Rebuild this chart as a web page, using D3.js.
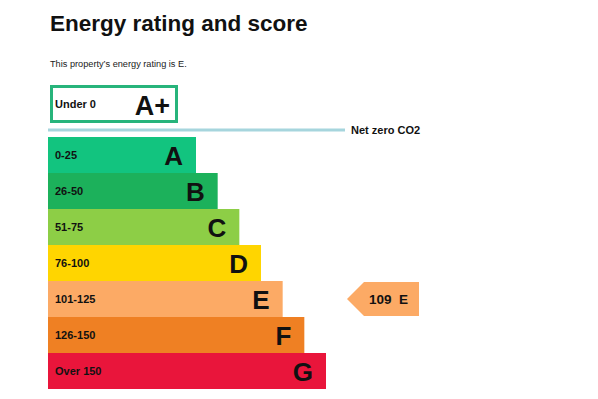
<!DOCTYPE html>
<html>
<head>
<meta charset="utf-8">
<script src="https://cdn.jsdelivr.net/npm/d3@7"></script>
<style>
  body { margin: 0; background: #fff; }
  text { font-family: "Liberation Sans", Arial, sans-serif; }
</style>
</head>
<body>
<svg width="598" height="399"></svg>
<script>
// ratings and their score bands
var ratings = ["A", "B", "C", "D", "E", "F", "G"]
var ranges = ["0-25", "26-50", "51-75", "76-100", "101-125", "126-150", "Over 150"]
var colours = ["#12c47f", "#1cb15b", "#8dce46", "#ffd500", "#fcaa65", "#ef8023", "#e9153b"]
var current_score = 109
var current_rating = "E"

var svg = d3.select("svg")

var left = 48
var ys = d3.scaleBand().domain(ratings).range([137, 389]).padding(0)
var xs = d3.scaleLinear().domain([0, ratings.length - 1]).range([148, 278])

svg.append("text")
  .attr("x", 50).attr("y", 31)
  .attr("font-size", "22.5px").attr("font-weight", "bold").attr("fill", "#111")
  .text("Energy rating and score")

svg.append("text")
  .attr("x", 50).attr("y", 67)
  .attr("font-size", "9.2px").attr("fill", "#222")
  .text("This property\u2019s energy rating is " + current_rating + ".")

// A+ box
svg.append("rect")
  .attr("x", 51.5).attr("y", 86.5).attr("width", 125).attr("height", 35)
  .attr("fill", "#fff").attr("stroke", "#27b47b").attr("stroke-width", 3)
svg.append("text")
  .attr("x", 55).attr("y", 108)
  .attr("font-size", "11px").attr("font-weight", "bold").attr("fill", "#111")
  .text("Under 0")
svg.append("text")
  .attr("x", 170).attr("y", 115).attr("text-anchor", "end")
  .attr("font-size", "27px").attr("font-weight", "bold").attr("fill", "#111")
  .text("A+")

// net zero line
svg.append("line")
  .attr("x1", 48).attr("x2", 345).attr("y1", 130).attr("y2", 130)
  .attr("stroke", "#a6d5dd").attr("stroke-width", 3)
svg.append("text")
  .attr("x", 351).attr("y", 134)
  .attr("font-size", "11px").attr("font-weight", "bold").attr("fill", "#111")
  .text("Net zero CO2")

var rows = svg.selectAll(".row")
  .data(ratings)
  .enter()
  .append("g")
  .attr("class", "row")

rows.append("rect")
  .attr("x", left)
  .attr("y", function(d){ return ys(d) })
  .attr("width", function(d, i){ return xs(i) })
  .attr("height", ys.bandwidth())
  .attr("fill", function(d, i){ return colours[i] })

rows.append("text")
  .attr("x", left + 7)
  .attr("y", function(d){ return ys(d) + ys.bandwidth() / 2 + 4 })
  .attr("font-size", "11px").attr("font-weight", "bold").attr("fill", "#111")
  .text(function(d, i){ return ranges[i] })

rows.append("text")
  .attr("x", function(d, i){ return left + xs(i) - 13 })
  .attr("y", function(d){ return ys(d) + ys.bandwidth() / 2 + 9.5 })
  .attr("text-anchor", "end")
  .attr("font-size", "26px").attr("font-weight", "bold").attr("fill", "#111")
  .text(function(d){ return d })

// current rating pointer
var py = ys(current_rating)
var ph = ys.bandwidth()
var px = 347
svg.append("path")
  .attr("d", "M" + px + "," + (py + ph / 2) +
    "L" + (px + 17) + "," + (py + 1) +
    "L" + (px + 72) + "," + (py + 1) +
    "L" + (px + 72) + "," + (py + ph - 1) +
    "L" + (px + 17) + "," + (py + ph - 1) + "Z")
  .attr("fill", colours[ratings.indexOf(current_rating)])
svg.append("text")
  .attr("x", px + 22).attr("y", py + ph / 2 + 5)
  .attr("font-size", "13.5px").attr("font-weight", "bold").attr("fill", "#111")
  .attr("xml:space", "preserve").style("white-space", "pre")
  .text(current_score + "  " + current_rating)
</script>
</body>
</html>
